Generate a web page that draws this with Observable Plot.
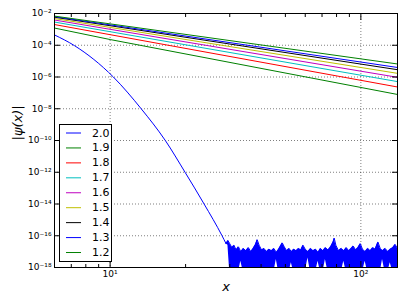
<!DOCTYPE html>
<html><head><meta charset="utf-8">
<script src="https://cdn.jsdelivr.net/npm/d3@7"></script>
<script src="https://cdn.jsdelivr.net/npm/@observablehq/plot@0.6"></script>
<style>
body{margin:0;background:#fff;font-family:"DejaVu Sans",sans-serif;}
#wrap{position:relative;width:407px;height:305px;}
#legend{position:absolute;left:59px;top:124px;}
</style></head>
<body><div id="wrap"></div>
<script>
// ---- data (all values are log10 of |psi(x)|) ----
const alphas = ["2.0","1.9","1.8","1.7","1.6","1.5","1.4","1.3","1.2"];
const colors = ["#0000ff","#008000","#ff0000","#00bfbf","#bf00bf","#bfbf00","#000000","#0000ff","#008000"];

// alpha = 2.0 : fast-decaying curve
const x20 = [6, 7.2, 10.3, 13.3, 16.6, 19.9, 23.7, 27.95, 29.0];
const y20 = [-3.35, -4.02, -6.0, -8.0, -10.0, -12.0, -14.0, -16.0, -16.5];

// alpha = 2.0 : numerical noise floor (upper and lower envelope)
const noiseX = [29.0,29.5,30,30.6,31.2,31.8,32.5,33.2,34,34.8,35.6,36.4,37.2,38,38.6,39.3,40.2,41.1,42,43,44,45,46,47,48,48.6,49.5,50.6,51.7,52.8,54,55.2,56.4,57.6,58.8,60,61.5,63,64.5,66,67.5,69,70.6,72.2,74,75.8,77.5,78.3,79.5,81.5,83.5,85.5,87.5,89.5,91.5,93.3,95.3,97.3,99.5,101.5,104,106.5,109,111.5,114,117,119.5,122,125,128,131,134,137,140];
const noiseHi = [-16.5,-16.3,-16.5,-16.75,-16.6,-16.9,-16.7,-17.0,-16.8,-16.95,-16.75,-17.0,-16.8,-16.55,-16.25,-16.6,-16.9,-16.8,-17.0,-16.85,-16.95,-16.8,-17.05,-16.85,-16.6,-16.45,-16.7,-16.95,-16.8,-17.0,-16.85,-16.95,-16.8,-16.9,-16.6,-16.85,-17.0,-16.8,-16.95,-16.85,-17.05,-16.8,-16.95,-16.75,-16.9,-16.7,-16.4,-16.15,-16.6,-16.95,-16.8,-16.95,-16.75,-16.95,-16.8,-16.65,-16.9,-16.75,-16.5,-16.85,-17.0,-16.8,-16.95,-16.75,-16.85,-16.4,-16.8,-16.95,-16.8,-17.0,-16.85,-16.75,-16.55,-16.8];
const noiseLo = [-16.5,-16.6,-18.3,-18.3,-18.3,-18.3,-18.3,-17.6,-18.3,-18.3,-18.3,-18.3,-18.3,-18.3,-18.3,-18.3,-18.3,-18.3,-18.3,-18.3,-18.3,-18.3,-17.5,-18.3,-18.3,-18.3,-18.3,-18.3,-18.3,-17.7,-18.3,-18.3,-18.3,-18.3,-18.3,-18.3,-17.4,-18.3,-18.3,-18.3,-17.6,-18.3,-18.3,-17.5,-18.3,-18.3,-18.3,-18.3,-18.3,-18.3,-18.3,-17.6,-18.3,-18.3,-18.3,-18.3,-18.3,-18.3,-18.3,-18.3,-17.6,-18.3,-18.3,-18.3,-18.3,-18.3,-18.3,-17.5,-18.3,-18.3,-17.7,-18.3,-18.3,-18.3];

// alpha = 1.9 ... 1.2 : power-law tails
const x19 = [6, 10, 140],  y19 = [-2.917, -3.64, -7.10];
const x18 = [6, 140],      y18 = [-2.696, -6.63];
const x17 = [6, 140],      y17 = [-2.538, -6.29];
const x16 = [6, 140],      y16 = [-2.411, -6.02];
const x15 = [6, 140],      y15 = [-2.316, -5.77];
const x14 = [6, 140],      y14 = [-2.234, -5.54];
const x13 = [6, 140],      y13 = [-2.196, -5.40];
const x12 = [6, 140],      y12 = [-2.164, -5.18];

const xMajor = [10, 100];
const xMinor = [7, 8, 9, 20, 30, 40, 50, 60, 70, 80, 90];
const yMajorExp = [-18, -16, -14, -12, -10, -8, -6, -4, -2];

// ---- build ----
const pw = v => Math.pow(10, v);
const sup = "⁰¹²³⁴⁵⁶⁷⁸⁹";
const fmt = v => { const e = Math.round(Math.log10(v)); return "10" + String(e).split("").map(c => c === "-" ? "⁻" : sup[+c]).join(""); };
const yMajor = yMajorExp.map(pw);

const tails = [[x19,y19],[x18,y18],[x17,y17],[x16,y16],[x15,y15],[x14,y14],[x13,y13],[x12,y12]];
const tailRows = tails.flatMap(([xs, ys], i) => xs.map((x, j) => ({x, y: pw(ys[j]), s: alphas[i+1], c: colors[i+1]})));
const curveRows = x20.map((x, i) => ({x, y: pw(y20[i])}));
const noiseRows = noiseX.map((x, i) => ({x, hi: pw(noiseHi[i]), lo: pw(noiseLo[i])}));

const gridStyle = {stroke: "#000", strokeOpacity: 0.5, strokeDasharray: "1,2", strokeWidth: 1};
const blank = () => "";

const chart = Plot.plot({
  width: 407, height: 305,
  marginLeft: 54, marginRight: 10, marginTop: 13, marginBottom: 38,
  x: {type: "log", domain: [6, 140], axis: null},
  y: {type: "log", domain: [1e-18, 1e-2], axis: null},
  style: {fontFamily: "DejaVu Sans", fontSize: "9px", color: "#000", background: "#fff"},
  marks: [
    Plot.gridX(xMajor, gridStyle),
    Plot.gridY(yMajor, gridStyle),
    Plot.areaY(noiseRows, {x: "x", y1: "lo", y2: "hi", fill: colors[0], clip: true}),
    Plot.line(noiseRows, {x: "x", y: "hi", stroke: colors[0], strokeWidth: 1, clip: true}),
    Plot.line(curveRows, {x: "x", y: "y", stroke: colors[0], strokeWidth: 1, curve: "monotone-x", clip: true}),
    Plot.line(tailRows, {x: "x", y: "y", z: "s", stroke: "c", strokeWidth: 1, clip: true}),
    Plot.frame({stroke: "#000", strokeWidth: 1}),
    // ticks (inward)
    Plot.axisX(xMajor, {anchor: "bottom", tickSize: -6, tickFormat: blank, label: null}),
    Plot.axisX(xMinor, {anchor: "bottom", tickSize: -3, tickFormat: blank, label: null}),
    Plot.axisX(xMajor, {anchor: "top", tickSize: -6, tickFormat: blank, label: null}),
    Plot.axisX(xMinor, {anchor: "top", tickSize: -3, tickFormat: blank, label: null}),
    Plot.axisY(yMajor, {anchor: "left", tickSize: -6, tickFormat: blank, label: null}),
    Plot.axisY(yMajor, {anchor: "right", tickSize: -6, tickFormat: blank, label: null}),
    // tick labels
    Plot.axisX(xMajor, {anchor: "bottom", tickSize: 0, tickPadding: 3, tickFormat: fmt, fontSize: 9, label: null}),
    Plot.axisY(yMajor, {anchor: "left", tickSize: 0, tickPadding: 3, tickFormat: fmt, fontSize: 9, label: null}),
    // axis titles
    Plot.text(["|ψ(x)|"], {frameAnchor: "left", dx: -37, rotate: -90, fontSize: 13, fontStyle: "italic", text: d => d}),
    Plot.text(["x"], {frameAnchor: "bottom", dy: 23, fontSize: 13, fontStyle: "italic", text: d => d})
  ]
});

const wrap = document.getElementById("wrap");
wrap.appendChild(chart);

// legend overlay
const lw = 53, lh = 138;
const leg = d3.select(wrap).append("svg").attr("id", "legend").attr("width", lw).attr("height", lh);
leg.append("rect").attr("x", 0.5).attr("y", 0.5).attr("width", lw - 1).attr("height", lh - 1)
  .attr("fill", "#fff").attr("stroke", "#000").attr("stroke-width", 1);
const g = leg.selectAll("g").data(alphas).join("g")
  .attr("transform", (d, i) => `translate(0,${9 + i * 14.94})`);
g.append("line").attr("x1", 7).attr("x2", 22).attr("y1", 0).attr("y2", 0)
  .attr("stroke", (d, i) => colors[i]).attr("stroke-width", 1);
g.append("text").attr("x", 33).attr("y", 0).attr("dominant-baseline", "central")
  .attr("font-family", "DejaVu Sans").attr("font-size", 11).text(d => d);
</script>
</body></html>
